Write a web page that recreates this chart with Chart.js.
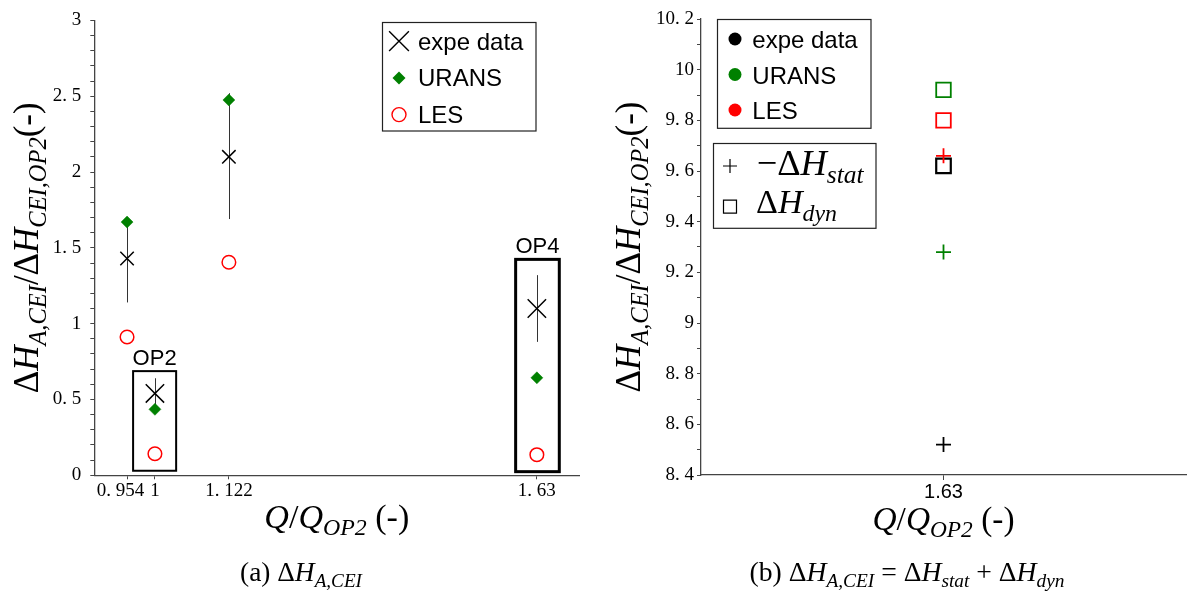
<!DOCTYPE html>
<html><head><meta charset="utf-8">
<script src="https://cdn.jsdelivr.net/npm/chart.js@4/dist/chart.umd.min.js"></script>
<style>
html,body{margin:0;padding:0;background:#fff;}
#wrap{position:relative;width:1187px;height:591px;overflow:hidden;}
#a{position:absolute;left:0;top:0;width:593px;height:591px;}
#b{position:absolute;left:593px;top:0;width:594px;height:591px;}
</style></head><body>
<div id="wrap"><div id="a"><canvas id="ca" width="593" height="591"></canvas></div><div id="b"><canvas id="cb" width="594" height="591"></canvas></div></div>
<script>
// ---------- data: panel (a) ----------
const xValsA = [0.954, 1, 1.122, 1.63];
const xTickLabelsA = ['0. 954', '1', '1. 122', '1. 63'];
const expeA = [1.43, 0.54, 2.10, 1.10];
const expeLowA = [1.14, 0.44, 1.69, 0.88];
const expeHighA = [1.67, 0.64, 2.52, 1.32];
const uransA = [1.67, 0.435, 2.475, 0.643];
const lesA = [0.912, 0.142, 1.405, 0.136];
const yTicksA = [0, 0.5, 1, 1.5, 2, 2.5, 3];
const yTickLabelsA = ['0', '0. 5', '1', '1. 5', '2', '2. 5', '3'];
const seriesNamesA = ['expe data', 'URANS', 'LES'];
// highlighted operating points (data units)
const boxNames = ['OP2', 'OP4'];
const boxXmin = [0.964, 1.595];
const boxXmax = [1.035, 1.667];
const boxYmin = [0.030, 0.024];
const boxYmax = [0.687, 1.424];

// ---------- data: panel (b) ----------
const xCatsB = ['1.63'];
const seriesNamesB = ['expe data', 'URANS', 'LES'];
const statB = [8.52, 9.28, 9.66];   // -ΔH_stat
const dynB = [9.62, 9.92, 9.80];    // ΔH_dyn
const yTicksB = [8.4, 8.6, 8.8, 9, 9.2, 9.4, 9.6, 9.8, 10, 10.2];
const yTickLabelsB = ['8. 4', '8. 6', '8. 8', '9', '9. 2', '9. 4', '9. 6', '9. 8', '10', '10. 2'];

// ---------- styles ----------
const GREEN = '#008000', RED = '#ff0000', BLACK = '#000000';
const colorsB = [BLACK, GREEN, RED];
const AXIS = '#444';
const fSerif = '"Liberation Serif","Times New Roman",serif';
const fSans = '"Liberation Sans",Arial,sans-serif';

function fontFor(k, s) {
  if (k === 'i') return 'italic ' + s.toFixed(2) + 'px ' + fSerif;
  if (k === 's') return 'italic ' + (s * 0.7).toFixed(2) + 'px ' + fSerif;
  if (k === 'n') return s.toFixed(2) + 'px ' + fSans;
  return s.toFixed(2) + 'px ' + fSerif;
}
function drawMath(ctx, segs, o) {
  let size = o.size;
  const measure = (s) => { let w = 0; for (const [t, k] of segs) { ctx.font = fontFor(k, s); w += ctx.measureText(t).width; } return w; };
  if (o.width) size = size * o.width / measure(size);
  const w = measure(size);
  ctx.save();
  ctx.translate(o.x, o.y);
  if (o.rot) ctx.rotate(-Math.PI / 2);
  let x = o.align === 'left' ? 0 : -w / 2;
  ctx.fillStyle = '#000'; ctx.textBaseline = 'alphabetic'; ctx.textAlign = 'left';
  for (const [t, k] of segs) {
    ctx.font = fontFor(k, size);
    ctx.fillText(t, x, k === 's' ? size * 0.22 : 0);
    x += ctx.measureText(t).width;
  }
  ctx.restore();
}
function marker(ctx, style, x, y, r, color, filled, lw) {
  ctx.save();
  ctx.strokeStyle = color; ctx.fillStyle = color; ctx.lineWidth = lw;
  ctx.beginPath();
  if (style === 'crossRot') {
    const d = r * Math.SQRT1_2;
    ctx.moveTo(x - d, y - d); ctx.lineTo(x + d, y + d);
    ctx.moveTo(x + d, y - d); ctx.lineTo(x - d, y + d); ctx.stroke();
  } else if (style === 'cross') {
    ctx.moveTo(x - r, y); ctx.lineTo(x + r, y);
    ctx.moveTo(x, y - r); ctx.lineTo(x, y + r); ctx.stroke();
  } else if (style === 'rectRot') {
    ctx.moveTo(x - r, y); ctx.lineTo(x, y - r); ctx.lineTo(x + r, y); ctx.lineTo(x, y + r); ctx.closePath(); ctx.fill();
  } else if (style === 'rect') {
    ctx.rect(x - r, y - r, 2 * r, 2 * r); ctx.stroke();
  } else {
    ctx.arc(x, y, r, 0, Math.PI * 2);
    if (filled) ctx.fill(); else ctx.stroke();
  }
  ctx.restore();
}
function minorLabel(ticks, labels) {
  return (v) => { const i = ticks.findIndex(t => Math.abs(t - v) < 1e-6); return i >= 0 ? labels[i] : ''; };
}
const inBox = (x) => boxXmin.some((b, i) => x >= b && x <= boxXmax[i]);
const noPad = (s) => { s.paddingLeft = 0; s.paddingRight = 0; };

// ---------- panel (a) plugin ----------
const plugA = {
  id: 'plugA',
  beforeDatasetsDraw(chart) {
    const ctx = chart.ctx, xs = chart.scales.x, ys = chart.scales.y;
    ctx.save(); ctx.strokeStyle = '#333'; ctx.lineWidth = 1;
    xValsA.forEach((x, i) => {
      const px = Math.round(xs.getPixelForValue(x)) + 0.5;
      ctx.beginPath(); ctx.moveTo(px, ys.getPixelForValue(expeLowA[i])); ctx.lineTo(px, ys.getPixelForValue(expeHighA[i])); ctx.stroke();
    });
    ctx.restore();
  },
  afterDatasetsDraw(chart) {
    const ctx = chart.ctx, xs = chart.scales.x, ys = chart.scales.y;
    ctx.save();
    boxNames.forEach((n, i) => {
      const x0 = xs.getPixelForValue(boxXmin[i]), x1 = xs.getPixelForValue(boxXmax[i]);
      const y0 = ys.getPixelForValue(boxYmax[i]), y1 = ys.getPixelForValue(boxYmin[i]);
      ctx.strokeStyle = '#000'; ctx.lineWidth = i === 0 ? 2 : 3;
      ctx.strokeRect(x0, y0, x1 - x0, y1 - y0);
      ctx.fillStyle = '#000'; ctx.font = '22px ' + fSans; ctx.textAlign = 'center'; ctx.textBaseline = 'alphabetic';
      ctx.fillText(n, (x0 + x1) / 2, y0 - 6);
    });
    ctx.restore();
  },
  afterDraw(chart) {
    const ctx = chart.ctx, ca = chart.chartArea;
    // legend
    ctx.save();
    const lx0 = 382.5, ly0 = 22.5, lx1 = 536, ly1 = 131;
    ctx.strokeStyle = '#222'; ctx.lineWidth = 1.2; ctx.strokeRect(lx0, ly0, lx1 - lx0, ly1 - ly0);
    const styles = [['crossRot', BLACK, 14, false, 1.4], ['rectRot', GREEN, 6.5, true, 1], ['circle', RED, 7, false, 1.4]];
    seriesNamesA.forEach((n, i) => {
      const by = 49.7 + i * 36.7;
      const s = styles[i];
      marker(ctx, s[0], 399, by - 8.5, s[2], s[1], s[3], s[4]);
      ctx.fillStyle = '#000'; ctx.font = '24px ' + fSans; ctx.textAlign = 'left'; ctx.textBaseline = 'alphabetic';
      ctx.fillText(n, 418, by);
    });
    ctx.restore();
    // titles
    drawMath(ctx, [['Δ', 'r'], ['H', 'i'], ['A,CEI', 's'], ['/', 'r'], ['Δ', 'r'], ['H', 'i'], ['CEI,OP2', 's'], ['(-)', 'r']],
      { x: 38, y: (ca.top + ca.bottom) / 2, rot: true, size: 34, width: 291 });
    drawMath(ctx, [['Q', 'i'], ['/', 'r'], ['Q', 'i'], ['OP2', 's'], [' (-)', 'r']],
      { x: (ca.left + ca.right) / 2, y: 528, size: 28, width: 145 });
    drawMath(ctx, [['(a) ', 'r'], ['Δ', 'r'], ['H', 'i'], ['A,CEI', 's']],
      { x: 301, y: 581, size: 21, width: 122 });
  }
};

new Chart(document.getElementById('ca'), {
  type: 'scatter',
  data: {
    datasets: [
      { label: seriesNamesA[0], data: xValsA.map((x, i) => ({ x, y: expeA[i] })), pointStyle: 'crossRot',
        pointRadius: (c) => inBox(xValsA[c.dataIndex]) ? 13 : 9.5, pointHoverRadius: 0,
        borderColor: BLACK, backgroundColor: BLACK, pointBorderWidth: 1.5 },
      { label: seriesNamesA[1], data: xValsA.map((x, i) => ({ x, y: uransA[i] })), pointStyle: 'rectRot',
        pointRadius: 6, borderColor: GREEN, backgroundColor: GREEN, pointBorderWidth: 0.5 },
      { label: seriesNamesA[2], data: xValsA.map((x, i) => ({ x, y: lesA[i] })), pointStyle: 'circle',
        pointRadius: 6.8, borderColor: RED, backgroundColor: 'rgba(0,0,0,0)', pointBorderWidth: 1.5 }
    ]
  },
  options: {
    responsive: false, animation: false, devicePixelRatio: 1,
    layout: { autoPadding: false, padding: { left: 0, top: 19, right: 13.7, bottom: 0 } },
    plugins: { legend: { display: false }, tooltip: { enabled: false } },
    scales: {
      x: {
        type: 'linear', min: 0.9, max: 1.7,
        afterBuildTicks: (s) => { s.ticks = xValsA.map(v => ({ value: v })); },
        afterFit: (s) => { s.height = 591 - 475.3; noPad(s); },
        grid: { drawOnChartArea: false, tickLength: 4, tickColor: AXIS, tickWidth: 1 },
        border: { display: true, color: AXIS, width: 1.3 },
        ticks: { autoSkip: false, maxRotation: 0, minRotation: 0, padding: 0, color: '#000',
          font: { family: fSerif, size: 19 },
          // first label nudged left (trailing spacing) so it does not run into "1"
          callback: (v) => { const i = xValsA.findIndex(t => Math.abs(t - v) < 1e-6); return i < 0 ? '' : (i === 0 ? xTickLabelsA[i] + '\u2002\u2009' : xTickLabelsA[i]); } }
      },
      y: {
        type: 'linear', min: 0, max: 3,
        afterFit: (s) => { s.width = 94.3; },
        grid: { drawOnChartArea: false, tickLength: 4, tickColor: AXIS, tickWidth: 1 },
        border: { display: true, color: AXIS, width: 1.3 },
        ticks: { stepSize: 0.1, autoSkip: false, padding: 9, color: '#000',
          font: { family: fSerif, size: 19 }, callback: minorLabel(yTicksA, yTickLabelsA) }
      }
    }
  },
  plugins: [plugA]
});

// ---------- panel (b) ----------
const plugB = {
  id: 'plugB',
  afterDraw(chart) {
    const ctx = chart.ctx, ca = chart.chartArea;
    ctx.save();
    // legend 1 (colours)
    ctx.strokeStyle = '#222'; ctx.lineWidth = 1.2;
    ctx.strokeRect(124.5, 19.5, 278 - 124.5, 128.3 - 19.5);
    seriesNamesB.forEach((n, i) => {
      const by = 48 + i * 35.5;
      marker(ctx, 'circle', 142, by - 9, 6.5, colorsB[i], true, 1);
      ctx.fillStyle = '#000'; ctx.font = '24px ' + fSans; ctx.textAlign = 'left'; ctx.textBaseline = 'alphabetic';
      ctx.fillText(n, 159.3, by);
    });
    // legend 2 (marker types)
    ctx.strokeRect(120.5, 143.5, 283 - 120.5, 228.3 - 143.5);
    marker(ctx, 'cross', 137, 166, 7, BLACK, false, 1.2);
    marker(ctx, 'rect', 137, 206.7, 6.5, BLACK, false, 1.2);
    ctx.restore();
    drawMath(ctx, [['−', 'r'], ['Δ', 'r'], ['H', 'i'], ['stat', 's']], { x: 163.7, y: 175, align: 'left', size: 27, width: 107 });
    drawMath(ctx, [['Δ', 'r'], ['H', 'i'], ['dyn', 's']], { x: 163, y: 213.3, align: 'left', size: 27, width: 81 });
    // titles
    drawMath(ctx, [['Δ', 'r'], ['H', 'i'], ['A,CEI', 's'], ['/', 'r'], ['Δ', 'r'], ['H', 'i'], ['CEI,OP2', 's'], ['(-)', 'r']],
      { x: 47, y: (ca.top + ca.bottom) / 2, rot: true, size: 34, width: 291 });
    drawMath(ctx, [['Q', 'i'], ['/', 'r'], ['Q', 'i'], ['OP2', 's'], [' (-)', 'r']],
      { x: (ca.left + ca.right) / 2, y: 530, size: 28, width: 142 });
    drawMath(ctx, [['(b) ', 'r'], ['Δ', 'r'], ['H', 'i'], ['A,CEI', 's'], [' = ', 'r'], ['Δ', 'r'], ['H', 'i'], ['stat', 's'], [' + ', 'r'], ['Δ', 'r'], ['H', 'i'], ['dyn', 's']],
      { x: 314, y: 581, size: 21, width: 315 });
  }
};

const dsB = [];
seriesNamesB.forEach((n, i) => {
  dsB.push({ label: n + ' stat', data: [statB[i]], pointStyle: 'cross', pointRadius: 7.5, pointHoverRadius: 0,
    borderColor: colorsB[i], backgroundColor: colorsB[i], pointBorderWidth: 1.8, showLine: false });
});
seriesNamesB.forEach((n, i) => {
  dsB.push({ label: n + ' dyn', data: [dynB[i]], pointStyle: 'rect', pointRadius: 10.3, pointHoverRadius: 0,
    borderColor: colorsB[i], backgroundColor: 'rgba(0,0,0,0)', pointBorderWidth: i === 0 ? 2.2 : 1.8, showLine: false });
});

new Chart(document.getElementById('cb'), {
  type: 'line',
  data: { labels: xCatsB, datasets: dsB },
  options: {
    responsive: false, animation: false, devicePixelRatio: 1,
    layout: { autoPadding: false, padding: { left: 0, top: 19, right: 1, bottom: 0 } },
    plugins: { legend: { display: false }, tooltip: { enabled: false } },
    scales: {
      x: {
        type: 'category', offset: true,
        afterFit: (s) => { s.height = 591 - 475; noPad(s); },
        grid: { offset: false, drawOnChartArea: false, tickLength: 5, tickColor: AXIS },
        border: { display: true, color: AXIS, width: 1.3 },
        ticks: { padding: 0, color: '#000', font: { family: fSans, size: 20 }, maxRotation: 0 }
      },
      y: {
        type: 'linear', min: 8.4, max: 10.2,
        afterFit: (s) => { s.width = 108; },
        grid: { drawOnChartArea: false, tickLength: 4, tickColor: AXIS, tickWidth: 1 },
        border: { display: true, color: AXIS, width: 1.3 },
        ticks: { stepSize: 0.1, autoSkip: false, padding: 3, color: '#000',
          font: { family: fSerif, size: 19 }, callback: minorLabel(yTicksB, yTickLabelsB) }
      }
    }
  },
  plugins: [plugB]
});
</script>
</body></html>
